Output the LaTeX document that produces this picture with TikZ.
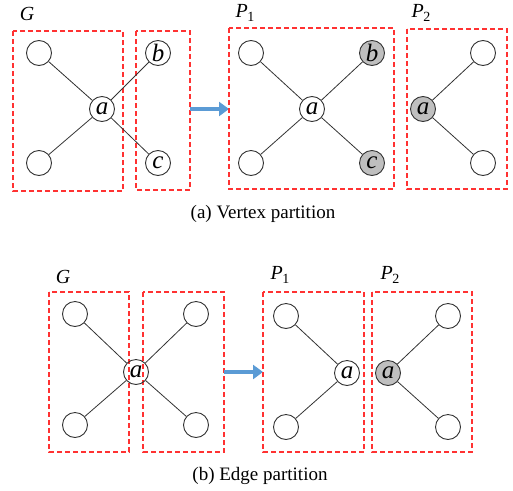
\documentclass[tikz,border=0pt]{standalone}
\usepackage{fontspec}
\setmainfont{Liberation Serif}
\usetikzlibrary{arrows.meta}
\definecolor{boxred}{RGB}{255,50,50}
\definecolor{arrblue}{RGB}{91,155,213}
\definecolor{shade}{RGB}{191,191,191}
\tikzset{
  vtx/.style={circle,draw=black!80,line width=0.9pt,fill=white,minimum size=25pt,inner sep=0pt,font=\fontsize{25}{25}\selectfont\itshape},
  gvtx/.style={vtx,fill=shade},
  part/.style={draw=boxred,line width=1.5pt,dash pattern=on 5pt off 3pt},
  edge/.style={draw=black!80,line width=0.8pt},
  flow/.style={draw=arrblue,line width=3.2pt,-{Triangle[length=10pt,width=14pt]}},
  lbl/.style={font=\fontsize{20}{20}\selectfont\itshape,inner sep=0pt},
  captxt/.style={font=\fontsize{19}{19}\selectfont,inner sep=0pt}
}
\newcommand{\Plab}[1]{P\kern-0.5pt\raisebox{-4pt}{\upshape\fontsize{14}{14}\selectfont #1}}
\begin{document}
\begin{tikzpicture}[x=1pt,y=-1pt]
\useasboundingbox (0,0) rectangle (513,490);
% ---------- (a) ----------
\node[lbl] (gA) at (27,14) {G};
\draw[part] (13,31) rectangle (123,191);
\draw[part] (136,31) rectangle (190,190);
\coordinate (boxAr) at (190,109);
\node[vtx] (a1) at (39,53) {};
\node[vtx] (a2) at (39,163) {};
\node[vtx] (aa) at (102,109) {a};
\node[vtx] (ab) at (158,53) {b};
\node[vtx] (ac) at (158,163) {c};
\draw[edge] (a1) -- (aa); \draw[edge] (a2) -- (aa);
\draw[edge] (ab) -- (aa); \draw[edge] (ac) -- (aa);
\coordinate (arrAe) at (229,109);
\draw[flow] (boxAr) -- (arrAe);

\node[lbl] (p1A) at (245,13) {\Plab{1}};
\draw[part] (229,28) rectangle (394,189);
\node[vtx] (b1) at (251,53) {};
\node[vtx] (b2) at (251,163) {};
\node[vtx] (ba) at (312,109) {a};
\node[gvtx] (bb) at (372,53) {b};
\node[gvtx] (bc) at (372,163) {c};
\draw[edge] (b1) -- (ba); \draw[edge] (b2) -- (ba);
\draw[edge] (bb) -- (ba); \draw[edge] (bc) -- (ba);

\node[lbl] (p2A) at (421,13) {\Plab{2}};
\draw[part] (407,29) rectangle (507,189);
\node[gvtx] (ca) at (423,109) {a};
\node[vtx] (c1) at (483,53) {};
\node[vtx] (c2) at (483,163) {};
\draw[edge] (c1) -- (ca); \draw[edge] (c2) -- (ca);

\node[captxt] (capA) at (263,214) {(a) Vertex partition};

% ---------- (b) ----------
\node[lbl] (gB) at (63,277) {G};
\draw[part] (49,292) rectangle (129,452);
\draw[part] (143,292) rectangle (224,452);
\coordinate (boxBr) at (224,372);
\node[vtx] (d1) at (75,314) {};
\node[vtx] (d2) at (75,425) {};
\node[vtx] (d3) at (196,314) {};
\node[vtx] (d4) at (196,425) {};
\node[vtx,fill=none] (da) at (136,372) {a};
\draw[edge] (d1) -- (da); \draw[edge] (d2) -- (da);
\draw[edge] (d3) -- (da); \draw[edge] (d4) -- (da);
\coordinate (arrBe) at (263,372);
\draw[flow] (boxBr) -- (arrBe);

\node[lbl] (p1B) at (280,275) {\Plab{1}};
\draw[part] (263,292) rectangle (364,452);
\node[vtx] (e1) at (286,316) {};
\node[vtx] (e2) at (286,427) {};
\node[vtx] (ea) at (347,373) {a};
\draw[edge] (e1) -- (ea); \draw[edge] (e2) -- (ea);

\node[lbl] (p2B) at (390,275) {\Plab{2}};
\draw[part] (372,292) rectangle (472,452);
\node[gvtx] (fa) at (388,373) {a};
\node[vtx] (f1) at (448,316) {};
\node[vtx] (f2) at (448,427) {};
\draw[edge] (f1) -- (fa); \draw[edge] (f2) -- (fa);

\node[captxt] (capB) at (260,476) {(b) Edge partition};
\end{tikzpicture}
\end{document}
